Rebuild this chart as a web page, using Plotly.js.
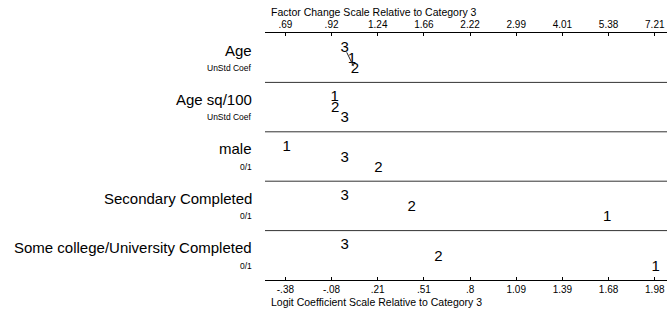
<!DOCTYPE html>
<html>
<head>
<meta charset="utf-8">
<script src="https://cdn.plot.ly/plotly-3.0.1.min.js"></script>
<style>html,body{margin:0;padding:0;background:#fff}#chart{width:667px;height:311px}</style>
</head>
<body>
<div id="chart"></div>
<script>
// ---- data ----
const rowLabels = ['Age', 'Age sq/100', 'male', 'Secondary Completed', 'Some college/University Completed'];
const rowSubLabels = ['UnStd Coef', 'UnStd Coef', '0/1', '0/1', '0/1'];
const categories = ['1', '2', '3'];
const cat1 = [0.047, -0.064, -0.369, 1.675, 1.984];
const cat2 = [0.066, -0.061, 0.215, 0.428, 0.598];
const cat3 = [0, 0, 0, 0, 0];
const logitTicks = [-0.378, -0.0835, 0.211, 0.5055, 0.800, 1.0945, 1.389, 1.6835, 1.978];
const logitTickLabels = ['-.38', '-.08', '.21', '.51', '.8', '1.09', '1.39', '1.68', '1.98'];
const factorTickLabels = ['.69', '.92', '1.24', '1.66', '2.22', '2.99', '4.01', '5.38', '7.21'];
const linkRow = ['Age'];
const linkFrom = ['3'];
const linkTo = ['2'];

// ---- build ----
const FONT = 'Liberation Sans, Arial, Helvetica, sans-serif';
const values = [cat1, cat2, cat3];
const levelOffsets = [0.305, 0.53, 0.735];
const xRange = [-0.508, 2.056];

// vertical position of each letter: rank by value within the row
function yPos(catIdx, rowIdx) {
  const v = values.map(a => a[rowIdx]);
  const order = v.map((val, i) => i).sort((a, b) => v[a] - v[b]);
  const rank = order.indexOf(catIdx);
  return rowIdx + levelOffsets[rank];
}

const traces = categories.map((c, ci) => ({
  type: 'scatter', mode: 'text',
  x: values[ci],
  y: rowLabels.map((r, ri) => yPos(ci, ri)),
  text: rowLabels.map(() => c),
  textposition: 'middle center',
  textfont: {family: FONT, size: 15, color: '#000'},
  hoverinfo: 'skip', showlegend: false, cliponaxis: false
}));

linkRow.forEach((r, k) => {
  const ri = rowLabels.indexOf(r);
  const a = categories.indexOf(linkFrom[k]);
  const b = categories.indexOf(linkTo[k]);
  const xa = values[a][ri], xb = values[b][ri];
  const ya = yPos(a, ri), yb = yPos(b, ri);
  const t0 = 0.2, t1 = 0.85;
  traces.push({
    type: 'scatter', mode: 'lines', xaxis: 'x2',
    x: [xa + (xb - xa) * t0, xa + (xb - xa) * t1],
    y: [ya + (yb - ya) * t0, ya + (yb - ya) * t1],
    line: {color: '#222', width: 1},
    hoverinfo: 'skip', showlegend: false
  });
});

const shapes = rowLabels.slice(1).map((r, i) => ({
  type: 'line', xref: 'paper', yref: 'y', x0: 0, x1: 1, y0: i + 1, y1: i + 1,
  line: {color: '#333', width: 1}
}));

const annotations = [];
rowLabels.forEach((r, i) => {
  annotations.push({xref: 'paper', yref: 'y', x: 0, y: i + 0.345, xanchor: 'right', yanchor: 'middle',
    xshift: -11, text: r, showarrow: false, font: {family: FONT, size: 15, color: '#000'}});
  annotations.push({xref: 'paper', yref: 'y', x: 0, y: i + 0.71, xanchor: 'right', yanchor: 'middle',
    xshift: -11, text: rowSubLabels[i], showarrow: false, font: {family: FONT, size: 8.5, color: '#000'}});
});
annotations.push({xref: 'paper', yref: 'paper', x: 0, y: 1, xanchor: 'left', yanchor: 'middle',
  xshift: 4, yshift: 21, text: 'Factor Change Scale Relative to Category 3', showarrow: false,
  font: {family: FONT, size: 10.5, color: '#000'}});
annotations.push({xref: 'paper', yref: 'paper', x: 0, y: 0, xanchor: 'left', yanchor: 'middle',
  xshift: 4, yshift: -22, text: 'Logit Coefficient Scale Relative to Category 3', showarrow: false,
  font: {family: FONT, size: 10.5, color: '#000'}});

const axisCommon = {
  range: xRange, showgrid: false, zeroline: false, showline: true, linecolor: '#000', linewidth: 1,
  ticks: 'inside', ticklen: 3, tickcolor: '#000', tickwidth: 1,
  tickmode: 'array', tickvals: logitTicks,
  tickfont: {family: FONT, size: 10, color: '#000'}, fixedrange: true
};

const layout = {
  width: 667, height: 311,
  margin: {l: 265, r: 0, t: 33, b: 31, pad: 0},
  paper_bgcolor: '#fff', plot_bgcolor: '#fff',
  showlegend: false,
  xaxis: Object.assign({}, axisCommon, {ticktext: logitTickLabels, side: 'bottom'}),
  xaxis2: Object.assign({}, axisCommon, {ticktext: factorTickLabels, side: 'top', overlaying: 'x', anchor: 'y'}),
  yaxis: {range: [5, 0], visible: false, showgrid: false, zeroline: false, fixedrange: true},
  shapes: shapes,
  annotations: annotations
};

Plotly.newPlot('chart', traces, layout, {staticPlot: true, displayModeBar: false});
</script>
</body>
</html>
